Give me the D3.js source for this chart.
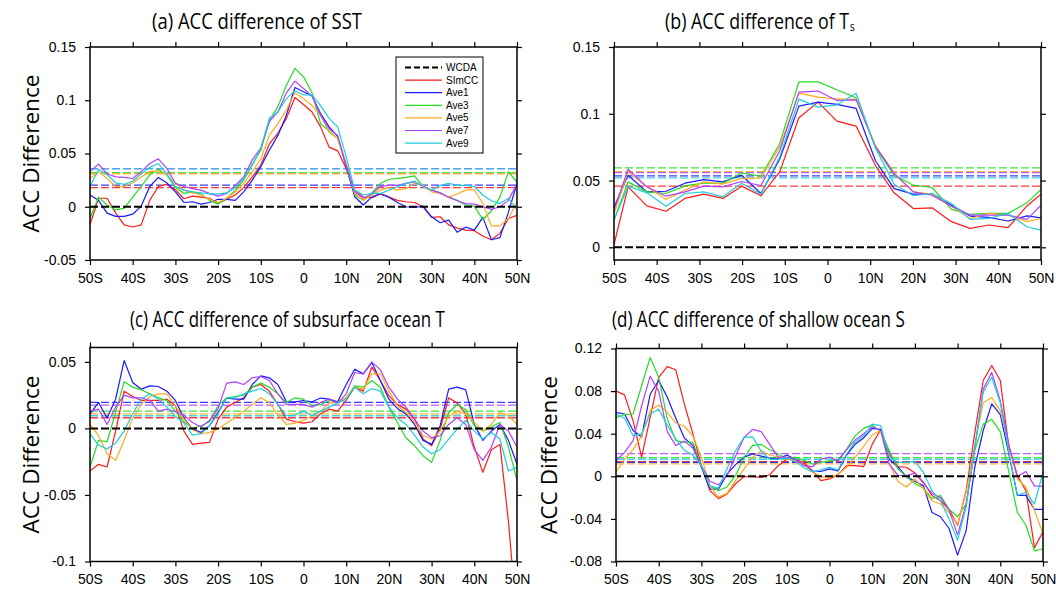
<!DOCTYPE html>
<html><head><meta charset="utf-8">
<script src="https://cdn.jsdelivr.net/npm/d3@7"></script>
<style>body{margin:0;background:#fff}svg{display:block}</style>
</head><body><svg id="c" width="1056" height="589"></svg>
<script>
// ---------------- DATA ----------------
const seriesNames = ["SImCC","Ave1","Ave3","Ave5","Ave7","Ave9"];
const legendNames = ["WCDA","SImCC","Ave1","Ave3","Ave5","Ave7","Ave9"];
const xTickValues = [-50,-40,-30,-20,-10,0,10,20,30,40,50];
const xTickLabels = ["50S","40S","30S","20S","10S","0","10N","20N","30N","40N","50N"];

// latitude grid (2 degree) for panels a, c, d
const latFine = [-50,-48,-46,-44,-42,-40,-38,-36,-34,-32,-30,-28,-26,-24,-22,-20,-18,-16,-14,-12,-10,-8,-6,-4,-2,
  0,2,4,6,8,10,12,14,16,18,20,22,24,26,28,30,32,34,36,38,40,42,44,46,48,50];
// latitude grid for panel b (coarse atmospheric grid)
const latTs = [-50,-46.7,-42.3,-37.8,-33.4,-29.0,-24.5,-20.1,-15.6,-11.2,-6.7,-2.2,2.2,6.7,11.2,15.6,20.1,24.5,29.0,33.4,37.8,42.3,46.7,50];

// (a) SST
const sstSImCC = [-0.017,0.008,0.008,-0.006,-0.017,-0.019,-0.017,0.006,0.019,0.021,0.016,0.0075,0.010,0.009,0.008,0.003,0.007,0.011,0.018,0.028,0.039,0.059,0.069,0.083,0.1025,
  0.096,0.089,0.075,0.056,0.0525,0.036,0.0156,0.009,0.0085,0.012,0.009,0.006,0.0047,0.004,0.0,-0.010,-0.0094,-0.017,-0.020,-0.022,-0.0225,-0.0275,-0.031,-0.025,-0.011,-0.008];
const sstAve1 = [0.011,0.006,-0.006,-0.009,-0.009,-0.007,0.0006,0.019,0.0275,0.0225,0.014,0.004,0.0047,0.0025,0.004,0.007,0.007,0.006,0.014,0.025,0.0375,0.053,0.067,0.086,0.112,
  0.108,0.104,0.0875,0.075,0.066,0.0375,0.0094,0.0016,0.009,0.0125,0.009,0.004,0.0,-0.0006,0.0006,-0.0094,-0.015,-0.0125,-0.024,-0.019,-0.022,-0.010,-0.031,-0.029,-0.005,0.022];
const sstAve3 = [-0.011,0.009,0.0016,-0.003,-0.0016,0.009,0.019,0.030,0.035,0.030,0.018,0.0125,0.014,0.012,0.006,0.0025,0.008,0.0156,0.025,0.040,0.053,0.081,0.094,0.114,0.130,
  0.122,0.107,0.078,0.071,0.064,0.039,0.011,0.006,0.013,0.022,0.0256,0.0266,0.0275,0.029,0.019,0.0156,0.013,0.009,0.006,0.0016,0.0006,-0.012,-0.004,0.009,0.033,0.023];
const sstAve5 = [0.0265,0.033,0.0265,0.019,0.019,0.0225,0.028,0.033,0.034,0.030,0.022,0.0156,0.013,0.011,0.007,0.004,0.008,0.014,0.022,0.033,0.045,0.067,0.078,0.091,0.107,
  0.1015,0.095,0.086,0.070,0.064,0.0406,0.0125,0.006,0.011,0.0156,0.018,0.0156,0.017,0.022,0.020,0.014,0.0125,0.009,0.012,0.0156,0.016,0.003,-0.018,-0.018,-0.011,0.0047];
const sstAve7 = [0.033,0.040,0.031,0.028,0.0275,0.0265,0.033,0.0406,0.045,0.036,0.022,0.019,0.017,0.0156,0.0125,0.010,0.0125,0.020,0.028,0.044,0.055,0.080,0.089,0.107,0.118,
  0.111,0.104,0.086,0.073,0.067,0.039,0.014,0.008,0.012,0.019,0.020,0.020,0.022,0.0234,0.019,0.0156,0.013,0.009,0.0056,0.003,0.0025,0.0,-0.0025,0.0,0.006,0.022];
const sstAve9 = [0.019,0.035,0.030,0.0225,0.021,0.024,0.031,0.037,0.0406,0.031,0.019,0.0156,0.014,0.013,0.012,0.012,0.013,0.018,0.0265,0.039,0.055,0.083,0.089,0.1015,0.109,
  0.105,0.105,0.095,0.083,0.075,0.047,0.0156,0.011,0.0125,0.0125,0.0156,0.019,0.022,0.024,0.019,0.0156,0.020,0.022,0.020,0.020,0.019,0.011,0.0056,0.003,0.008,-0.003];
const sstMeans = [0.018,0.0203,0.032,0.031,0.0358,0.0355];

// (b) Ts
const tsSImCC = [0.002,0.0453,0.031,0.027,0.0366,0.0398,0.0366,0.0458,0.0386,0.0565,0.097,0.1087,0.0945,0.0908,0.0614,0.0408,0.029,0.0296,0.0192,0.0142,0.0167,0.0147,0.031,0.0398];
const tsAve1 = [0.030,0.054,0.0415,0.042,0.048,0.0507,0.049,0.054,0.0403,0.066,0.1057,0.1087,0.107,0.104,0.065,0.044,0.0398,0.0398,0.0316,0.0234,0.0224,0.0197,0.0236,0.0221];
const tsAve3 = [0.0204,0.049,0.0415,0.0403,0.046,0.048,0.048,0.0557,0.0532,0.0776,0.1239,0.1239,0.118,0.112,0.075,0.054,0.0465,0.0448,0.0284,0.0246,0.0254,0.0254,0.0333,0.0433];
const tsAve5 = [0.0249,0.0565,0.0453,0.0358,0.0428,0.049,0.0473,0.0515,0.052,0.075,0.1154,0.1124,0.111,0.111,0.0764,0.0557,0.0415,0.0398,0.0308,0.0216,0.0254,0.0241,0.0192,0.0216];
const tsAve7 = [0.0279,0.0585,0.0453,0.0383,0.0415,0.0458,0.0453,0.0493,0.0463,0.0721,0.1162,0.117,0.110,0.1104,0.0756,0.0552,0.0415,0.039,0.0308,0.0241,0.0241,0.0241,0.0209,0.0316];
const tsAve9 = [0.0204,0.0458,0.0408,0.0308,0.0403,0.0415,0.0378,0.048,0.0398,0.0677,0.111,0.105,0.1067,0.1154,0.0746,0.0473,0.0386,0.0403,0.0328,0.0209,0.0216,0.0254,0.0154,0.0129];
const tsMeans = [0.0458,0.0535,0.0595,0.0567,0.056,0.052];

// (c) subsurface ocean T
const subSImCC = [-0.032,-0.027,-0.029,-0.002,0.028,0.024,0.021,0.021,0.021,0.022,0.017,-0.002,-0.012,-0.011,-0.0105,0.007,0.016,0.0195,0.023,0.031,0.033,0.028,0.018,0.007,0.005,
  0.004,0.005,0.011,0.0145,0.013,0.021,0.031,0.028,0.046,0.036,0.0245,0.018,0.0145,0.007,-0.008,-0.013,-0.0005,0.023,0.019,0.011,-0.014,-0.033,-0.016,-0.012,-0.070,-0.145];
const subAve1 = [0.0108,0.0195,0.0078,0.022,0.051,0.0345,0.0295,0.032,0.0315,0.028,0.021,0.0078,-0.0005,-0.003,0.002,0.012,0.023,0.022,0.022,0.033,0.0395,0.038,0.033,0.020,0.020,
  0.021,0.020,0.0228,0.022,0.020,0.033,0.0445,0.041,0.0495,0.036,0.022,0.015,0.0108,0.003,-0.009,-0.012,0.002,0.0295,0.031,0.029,0.003,-0.009,-0.002,0.003,-0.009,-0.027];
const subAve3 = [-0.029,-0.009,-0.010,0.012,0.035,0.031,0.029,0.026,0.023,0.021,0.013,0.005,0.0,0.002,0.005,0.017,0.023,0.024,0.025,0.031,0.034,0.031,0.026,0.0195,0.023,
  0.022,0.017,0.018,0.021,0.0195,0.023,0.032,0.031,0.036,0.031,0.016,0.0045,-0.007,-0.013,-0.0205,-0.0255,-0.009,0.012,0.018,0.014,0.002,-0.002,0.001,0.0045,-0.014,-0.039];
const subAve5 = [0.003,-0.0055,-0.019,-0.024,-0.009,0.008,0.018,0.024,0.026,0.026,0.017,0.007,-0.001,-0.004,-0.003,-0.0005,0.004,0.008,0.013,0.018,0.023,0.0195,0.010,0.003,0.004,
  0.006,0.0095,0.013,0.019,0.0195,0.023,0.031,0.0295,0.041,0.041,0.028,0.017,0.012,0.005,-0.0055,-0.008,-0.002,0.009,0.013,0.011,0.0045,-0.002,0.003,0.012,0.0095,0.003];
const subAve7 = [0.013,0.0145,0.003,0.016,0.025,0.023,0.023,0.021,0.013,0.0145,0.0125,0.010,0.0045,0.001,0.006,0.015,0.034,0.035,0.033,0.038,0.039,0.036,0.026,0.018,0.018,
  0.018,0.016,0.0195,0.022,0.019,0.026,0.042,0.041,0.050,0.044,0.031,0.022,0.016,0.007,-0.002,-0.007,-0.0055,0.003,0.008,0.003,-0.016,-0.024,-0.014,0.003,-0.002,-0.014];
const subAve9 = [-0.004,-0.0125,-0.0155,-0.011,-0.002,0.011,0.022,0.026,0.022,0.016,0.009,0.004,-0.005,-0.004,0.002,0.011,0.023,0.023,0.026,0.028,0.030,0.026,0.018,0.0095,0.010,
  0.013,0.0095,0.013,0.016,0.019,0.022,0.031,0.026,0.030,0.028,0.016,0.008,0.003,-0.005,-0.014,-0.019,-0.016,-0.008,-0.0005,0.006,-0.002,-0.008,-0.003,-0.008,-0.032,-0.029];
const subMeans = [0.008,0.0195,0.013,0.011,0.0175,0.0095];

// (d) shallow ocean S
const salSImCC = [0.080,0.0765,0.052,0.018,0.055,0.093,0.103,0.100,0.068,0.040,0.010,-0.0135,-0.021,-0.0165,-0.007,-0.0003,-0.0003,-0.001,0.0015,0.010,0.016,0.016,0.013,0.005,-0.004,
  -0.0025,0.0015,0.010,0.010,0.009,0.030,0.044,0.021,0.009,0.0085,0.003,-0.0055,-0.018,-0.023,-0.031,-0.046,-0.0135,0.040,0.090,0.104,0.090,0.027,0.0006,-0.0135,-0.067,-0.052];
const salAve1 = [0.060,0.0585,0.043,0.037,0.077,0.090,0.0745,0.0545,0.036,0.029,0.0085,-0.012,-0.012,0.002,0.011,0.018,0.021,0.019,0.017,0.0165,0.020,0.016,0.011,0.005,0.0045,
  0.007,0.005,0.020,0.030,0.036,0.045,0.044,0.016,0.009,-0.0003,-0.0047,-0.009,-0.034,-0.038,-0.049,-0.074,-0.051,0.008,0.043,0.068,0.058,0.021,-0.018,-0.018,-0.031,-0.031];
const salAve3 = [0.055,0.058,0.0585,0.085,0.1115,0.093,0.054,0.0335,0.032,0.032,0.010,-0.009,-0.0135,-0.010,0.0006,0.018,0.029,0.030,0.025,0.021,0.016,0.018,0.015,0.0115,0.013,
  0.0145,0.015,0.0255,0.038,0.045,0.048,0.042,0.024,0.007,-0.0003,-0.007,-0.011,-0.021,-0.018,-0.031,-0.038,-0.026,0.024,0.049,0.0535,0.042,0.004,-0.034,-0.046,-0.070,-0.068];
const salAve5 = [0.004,0.016,0.025,0.038,0.0615,0.067,0.060,0.050,0.047,0.038,0.018,-0.009,-0.0195,-0.016,-0.004,0.007,0.018,0.024,0.020,0.018,0.016,0.015,0.011,0.004,-0.0003,
  -0.0015,0.002,0.0085,0.018,0.028,0.039,0.043,0.0115,-0.0047,-0.010,-0.0025,-0.012,-0.023,-0.026,-0.034,-0.045,-0.015,0.029,0.069,0.074,0.0615,0.029,-0.0025,-0.010,-0.032,-0.054];
const salAve7 = [0.0145,0.0225,0.0335,0.066,0.094,0.080,0.042,0.029,0.033,0.0265,0.010,-0.0047,-0.008,0.0006,0.019,0.0365,0.044,0.042,0.030,0.018,0.018,0.016,0.010,0.009,0.016,
  0.018,0.0145,0.025,0.034,0.040,0.0465,0.043,0.0115,0.001,0.0006,0.003,-0.0065,-0.016,-0.020,-0.0315,-0.055,-0.026,0.0255,0.082,0.0975,0.071,0.030,-0.0003,0.0045,-0.009,-0.0095];
const salAve9 = [0.0585,0.0545,0.038,0.040,0.0585,0.063,0.048,0.035,0.0245,0.020,0.010,-0.009,-0.011,0.007,0.024,0.0365,0.037,0.0235,0.016,0.016,0.017,0.014,0.008,0.004,0.006,
  0.0085,0.006,0.021,0.032,0.038,0.049,0.0475,0.018,0.013,0.013,0.014,0.0037,-0.0135,-0.023,-0.040,-0.060,-0.029,0.027,0.079,0.093,0.069,0.0225,-0.018,-0.015,-0.026,0.0037];
const salMeans = [0.0138,0.013,0.0175,0.0116,0.0213,0.016];

// y ticks
const sstYTicks = [-0.05,0,0.05,0.1,0.15];
const sstYLabels = ["-0.05","0","0.05","0.1","0.15"];
const tsYTicks = [0,0.05,0.1,0.15];
const tsYLabels = ["0","0.05","0.1","0.15"];
const subYTicks = [-0.1,-0.05,0,0.05];
const subYLabels = ["-0.1","-0.05","0","0.05"];
const salYTicks = [-0.08,-0.04,0,0.04,0.08,0.12];
const salYLabels = ["-0.08","-0.04","0","0.04","0.08","0.12"];

// ---------------- STYLE / LAYOUT ----------------
const colors = ["#ff1a1a","#1a1aff","#22dd22","#ffaa22","#b040ff","#20ccdd"];
const svg = d3.select("#c");
const tickFont = "Liberation Sans, Arial, sans-serif";
const titleFont = "Open Sans, Noto Sans, sans-serif";

// draws a text horizontally scaled so that its width equals w (condensed title look)
function fitText(parent, x, y, w, rotate, build) {
  const t = parent.append("text").attr("dominant-baseline","central")
    .attr("font-family",titleFont).attr("font-size",22);
  build(t);
  const natural = t.node().getBBox().width;
  const sx = w / natural;
  if (rotate) {
    t.attr("text-anchor","middle").attr("transform",`translate(${x},${y}) rotate(-90) scale(${sx},1)`);
  } else {
    t.attr("transform",`translate(${x},${y}) scale(${sx},1)`);
  }
  return t;
}

const panels = [
  {id:"a", x0:90, x1:517, y0:47, y1:260, dom:[-0.05,0.15], yt:sstYTicks, yl:sstYLabels, lat:latFine,
   series:[sstSImCC,sstAve1,sstAve3,sstAve5,sstAve7,sstAve9], means:sstMeans, ylabX:31, legend:true},
  {id:"b", x0:614, x1:1041, y0:47, y1:260, dom:[-0.0095,0.15], yt:tsYTicks, yl:tsYLabels, lat:latTs,
   series:[tsSImCC,tsAve1,tsAve3,tsAve5,tsAve7,tsAve9], means:tsMeans, ylabX:null},
  {id:"c", x0:90, x1:517, y0:347.5, y1:561.5, dom:[-0.1,0.0608], yt:subYTicks, yl:subYLabels, lat:latFine,
   series:[subSImCC,subAve1,subAve3,subAve5,subAve7,subAve9], means:subMeans, ylabX:31},
  {id:"d", x0:616, x1:1043, y0:348.5, y1:561.5, dom:[-0.08,0.12], yt:salYTicks, yl:salYLabels, lat:latFine,
   series:[salSImCC,salAve1,salAve3,salAve5,salAve7,salAve9], means:salMeans, ylabX:549}
];

panels.forEach(p => {
  const x = d3.scaleLinear().domain([-50,50]).range([p.x0,p.x1]);
  const y = d3.scaleLinear().domain(p.dom).range([p.y1,p.y0]);
  const g = svg.append("g");
  const clipId = "clip"+p.id;
  svg.append("clipPath").attr("id",clipId).append("rect")
    .attr("x",p.x0).attr("y",p.y0).attr("width",p.x1-p.x0).attr("height",p.y1-p.y0);
  const plot = g.append("g").attr("clip-path",`url(#${clipId})`);

  p.means.forEach((m,i)=>{
    plot.append("line").attr("x1",p.x0).attr("x2",p.x1).attr("y1",y(m)).attr("y2",y(m))
      .attr("stroke",colors[i]).attr("stroke-width",1.3).attr("stroke-dasharray","8,3").attr("opacity",0.85);
  });
  const line = d3.line().x((d,i)=>x(p.lat[i])).y(d=>y(d));
  p.series.forEach((s,i)=>{
    plot.append("path").datum(s).attr("d",line).attr("fill","none")
      .attr("stroke",colors[i]).attr("stroke-width",1.2).attr("stroke-linejoin","round");
  });
  plot.append("line").attr("x1",p.x0).attr("x2",p.x1).attr("y1",y(0)).attr("y2",y(0))
    .attr("stroke","#000").attr("stroke-width",2).attr("stroke-dasharray","8,3");

  g.append("rect").attr("x",p.x0).attr("y",p.y0).attr("width",p.x1-p.x0).attr("height",p.y1-p.y0)
    .attr("fill","none").attr("stroke","#000").attr("stroke-width",1.5);

  const xb = d3.axisBottom(x).tickValues(xTickValues).tickFormat((d,i)=>xTickLabels[i]).tickSizeInner(5).tickSizeOuter(0).tickPadding(8);
  const xt = d3.axisTop(x).tickValues(xTickValues).tickFormat("").tickSizeInner(5).tickSizeOuter(0);
  const yl = d3.axisLeft(y).tickValues(p.yt).tickFormat((d,i)=>p.yl[i]).tickSizeInner(5).tickSizeOuter(0).tickPadding(9);
  const yr = d3.axisRight(y).tickValues(p.yt).tickFormat("").tickSizeInner(5).tickSizeOuter(0);
  [[xb,`translate(0,${p.y1})`],[xt,`translate(0,${p.y0})`],[yl,`translate(${p.x0},0)`],[yr,`translate(${p.x1},0)`]].forEach(([ax,tr])=>{
    const a = g.append("g").attr("transform",tr).call(ax);
    a.select(".domain").remove();
    a.selectAll("line").attr("stroke","#000").attr("stroke-width",1.2);
    a.selectAll("text").attr("font-family",tickFont).attr("font-size",14).attr("fill","#000");
  });

  if (p.ylabX !== null) {
    fitText(g, p.ylabX, (p.y0+p.y1)/2, 158, true, t => t.text("ACC Difference"));
  }

  if (p.legend) {
    const lg = g.append("g");
    lg.append("rect").attr("x",396).attr("y",57).attr("width",87).attr("height",96)
      .attr("fill","#fff").attr("stroke","#000").attr("stroke-width",1);
    legendNames.forEach((n,i)=>{
      const yy = 67.5 + i*12.6;
      lg.append("line").attr("x1",405).attr("x2",442).attr("y1",yy).attr("y2",yy)
        .attr("stroke", i===0 ? "#000" : colors[i-1]).attr("stroke-width", i===0?2:1.2)
        .attr("stroke-dasharray", i===0 ? "6,3" : null);
      lg.append("text").attr("x",446).attr("y",yy).attr("dominant-baseline","central")
        .attr("font-family",tickFont).attr("font-size",10).text(n);
    });
  }
});

// titles (left edge x, total width); optional subscript as a tspan of the same text
const titles = [
  {x:152, w:210, y:20, text:"(a) ACC difference of SST", sub:null},
  {x:665, w:190, y:20, text:"(b) ACC difference of T", sub:"s"},
  {x:130, w:315, y:318, text:"(c) ACC difference of subsurface ocean T", sub:null},
  {x:612, w:293, y:318, text:"(d) ACC difference of shallow ocean S", sub:null}
];
titles.forEach(t=>{
  fitText(svg, t.x, t.y, t.w, false, el => {
    el.append("tspan").text(t.text);
    if (t.sub) el.append("tspan").attr("font-size",13).attr("dy",5).attr("dx",1).text(t.sub);
  });
});
</script></body></html>
